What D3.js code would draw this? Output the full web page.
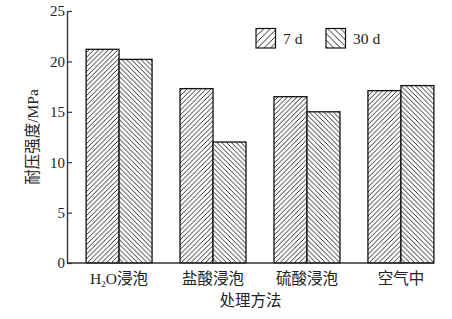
<!DOCTYPE html>
<html>
<head>
<meta charset="utf-8">
<script src="https://cdn.jsdelivr.net/npm/d3@7"></script>
<style>
  body { margin: 0; background: #fff; }
  text { font-family: "Liberation Serif", "Noto Sans CJK SC", serif; fill: #222; }
</style>
</head>
<body>
<svg id="chart" width="452" height="319"></svg>
<script>
// data
const methods = ["H2O浸泡", "盐酸浸泡", "硫酸浸泡", "空气中"];
const series = ["7 d", "30 d"];
const d7 = [21.2, 17.3, 16.5, 17.1];
const d30 = [20.2, 12.0, 15.0, 17.6];
const yTicks = [0, 5, 10, 15, 20, 25];

const svg = d3.select("#chart");
const axisLeftX = 67, axisY0 = 263, axisTop = 11;

const y = d3.scaleLinear().domain([0, 25]).range([axisY0, axisTop]);

const x = d3.scaleBand()
    .domain(methods)
    .range([72, 448])
    .paddingInner(28 / 94)
    .paddingOuter(0.15);

const xs = d3.scaleBand().domain(series).range([0, x.bandwidth()]);

// hatch patterns
const defs = svg.append("defs");
function hatch(id, dir, step) {
    const p = defs.append("pattern")
        .attr("id", id)
        .attr("patternUnits", "userSpaceOnUse")
        .attr("width", step).attr("height", step);
    p.append("rect").attr("width", step).attr("height", step).attr("fill", "#fff");
    const path = dir > 0
        ? `M0,${step} L${step},0 M${-step / 2},${step / 2} L${step / 2},${-step / 2} M${step / 2},${step * 1.5} L${step * 1.5},${step / 2}`
        : `M0,0 L${step},${step} M${-step / 2},${step / 2} L${step / 2},${step * 1.5} M${step / 2},${-step / 2} L${step * 1.5},${step / 2}`;
    p.append("path").attr("d", path).attr("stroke", "#111").attr("stroke-width", 0.9);
}
hatch("h7", 1, 4.8);
hatch("h30", -1, 4.8);
hatch("l7", 1, 6.5);
hatch("l30", -1, 6.5);
const fills = { "7 d": "url(#h7)", "30 d": "url(#h30)" };
const legFills = { "7 d": "url(#l7)", "30 d": "url(#l30)" };

// bars
const rows = methods.map((m, i) => ({ m, vals: [{ k: "7 d", v: d7[i] }, { k: "30 d", v: d30[i] }] }));
const g = svg.selectAll("g.grp").data(rows).enter().append("g")
    .attr("class", "grp")
    .attr("transform", d => `translate(${x(d.m)},0)`);
g.selectAll("rect").data(d => d.vals).enter().append("rect")
    .attr("x", d => xs(d.k))
    .attr("y", d => y(d.v))
    .attr("width", xs.bandwidth())
    .attr("height", d => y(0) - y(d.v))
    .attr("fill", d => fills[d.k])
    .attr("stroke", "#111")
    .attr("stroke-width", 1.3);

// y axis
const yAxis = svg.append("g")
    .attr("transform", `translate(${axisLeftX},0)`)
    .call(d3.axisLeft(y).tickValues(yTicks).tickSizeInner(-5).tickSizeOuter(0).tickPadding(2));
yAxis.select(".domain").attr("stroke", "#333").attr("stroke-width", 1.4);
yAxis.selectAll(".tick line").attr("stroke", "#333").attr("stroke-width", 1.2);
yAxis.selectAll(".tick text").attr("font-size", 15).attr("font-family", "Liberation Serif").attr("fill", "#222");

// x axis line
const xEnd = x(methods[methods.length - 1]) + x.bandwidth();
svg.append("line")
    .attr("x1", axisLeftX).attr("x2", xEnd)
    .attr("y1", axisY0).attr("y2", axisY0)
    .attr("stroke", "#333").attr("stroke-width", 1.6);

// x labels
methods.forEach(m => {
    const t = svg.append("text")
        .attr("x", x(m) + x.bandwidth() / 2)
        .attr("y", 284)
        .attr("text-anchor", "middle")
        .attr("font-size", 15.5);
    if (m.startsWith("H2O")) {
        t.append("tspan").text("H");
        t.append("tspan").text("2").attr("font-size", 9).attr("dy", 3);
        t.append("tspan").text("O").attr("dy", -3);
        t.append("tspan").text(m.slice(3));
    } else {
        t.text(m);
    }
});

// axis titles
svg.append("text")
    .attr("x", (axisLeftX + xEnd) / 2)
    .attr("y", 306)
    .attr("text-anchor", "middle")
    .attr("font-size", 15.5)
    .text("处理方法");

svg.append("text")
    .attr("transform", `translate(38,${(axisY0 + axisTop) / 2}) rotate(-90)`)
    .attr("text-anchor", "middle")
    .attr("font-size", 15.5)
    .text("耐压强度/MPa");

// legend
const legX = [256, 326];
series.forEach((s, i) => {
    svg.append("rect")
        .attr("x", legX[i]).attr("y", 28.5)
        .attr("width", 19.5).attr("height", 19.5)
        .attr("fill", legFills[s])
        .attr("stroke", "#111").attr("stroke-width", 1.2);
    svg.append("text")
        .attr("x", legX[i] + 27).attr("y", 44)
        .attr("font-size", 15.5)
        .text(s);
});
</script>
</body>
</html>
